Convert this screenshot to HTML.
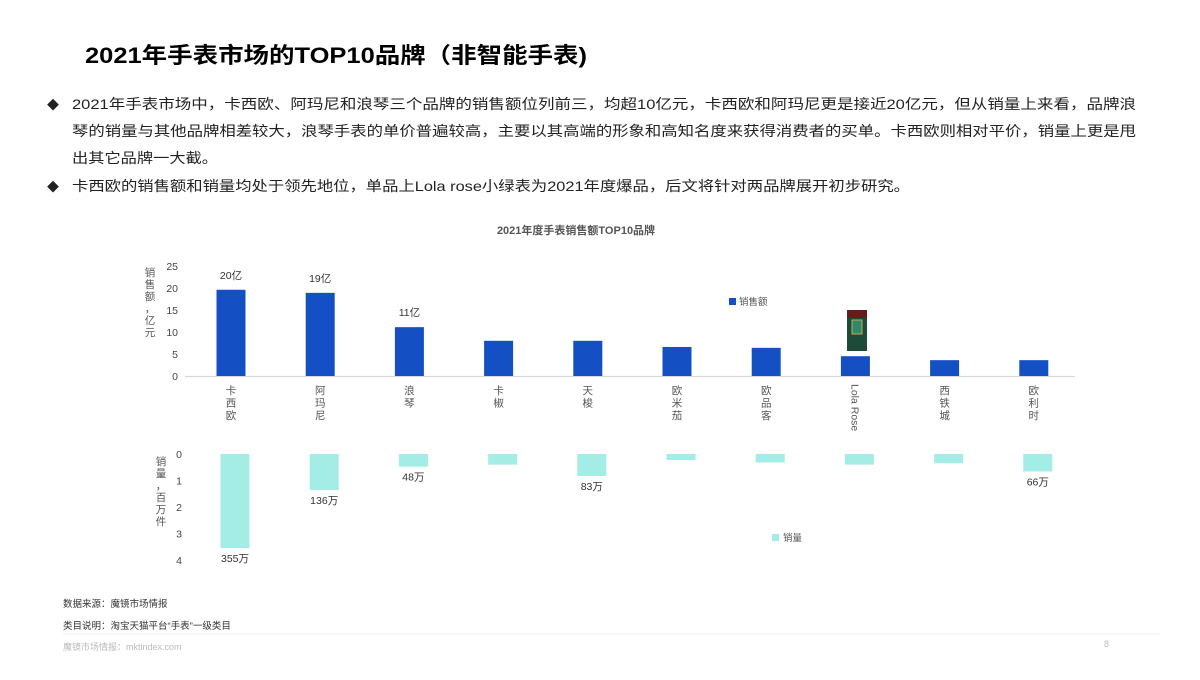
<!DOCTYPE html>
<html><head><meta charset="utf-8">
<style>
html,body{margin:0;padding:0;background:#fff;}
body{width:1200px;height:675px;overflow:hidden;font-family:"Liberation Sans","Noto Sans CJK SC",sans-serif;}
</style></head>
<body>
<svg width="1200" height="675" viewBox="0 0 1200 675" xmlns="http://www.w3.org/2000/svg" font-family="Liberation Sans, Noto Sans CJK SC, sans-serif">
<text x="85" y="63" font-size="22" font-weight="bold" fill="#000" textLength="502" lengthAdjust="spacingAndGlyphs">2021年手表市场的TOP10品牌（非智能手表)</text>
<g font-size="14" fill="#222">
<text x="47" y="109" font-size="12">◆</text>
<text x="72" y="109" textLength="1064" lengthAdjust="spacingAndGlyphs">2021年手表市场中，卡西欧、阿玛尼和浪琴三个品牌的销售额位列前三，均超10亿元，卡西欧和阿玛尼更是接近20亿元，但从销量上来看，品牌浪</text>
<text x="72" y="136" textLength="1064" lengthAdjust="spacingAndGlyphs">琴的销量与其他品牌相差较大，浪琴手表的单价普遍较高，主要以其高端的形象和高知名度来获得消费者的买单。卡西欧则相对平价，销量上更是甩</text>
<text x="72" y="163" textLength="146" lengthAdjust="spacingAndGlyphs">出其它品牌一大截。</text>
<text x="47" y="191" font-size="12">◆</text>
<text x="72" y="191" textLength="838" lengthAdjust="spacingAndGlyphs">卡西欧的销售额和销量均处于领先地位，单品上Lola rose小绿表为2021年度爆品，后文将针对两品牌展开初步研究。</text>
</g>
<text x="576" y="234" font-size="11" font-weight="bold" fill="#555" text-anchor="middle">2021年度手表销售额TOP10品牌</text>
<g id="chart"></g>
<text x="63" y="607" font-size="9.5" fill="#333">数据来源：魔镜市场情报</text>
<text x="63" y="629" font-size="9.5" fill="#333">类目说明：淘宝天猫平台“手表”一级类目</text>
<line x1="63" y1="634" x2="1160" y2="634" stroke="#eee" stroke-width="1"/>
<text x="63" y="650" font-size="9" fill="#bbb">魔镜市场情报：mktindex.com</text>
<text x="1104" y="647" font-size="9" fill="#bbb">8</text>
</svg>
<script>
const categories=["卡西欧","阿玛尼","浪琴","卡椒","天梭","欧米茄","欧品客","Lola Rose","西铁城","欧利时"];
const salesValues=[19.6,18.9,11.1,8.0,8.0,6.6,6.4,4.5,3.6,3.6];
const salesLabels=["20亿","19亿","11亿","","","","","","",""];
const volumeValues=[3.55,1.36,0.48,0.4,0.83,0.23,0.32,0.4,0.35,0.66];
const volumeLabels=["355万","136万","48万","","83万","","","","","66万"];
const salesTicks=[0,5,10,15,20,25];
const volumeTicks=[0,1,2,3,4];

const NS="http://www.w3.org/2000/svg";
const g=document.getElementById('chart');
function el(t,a,txt){const e=document.createElementNS(NS,t);for(const k in a)e.setAttribute(k,a[k]);if(txt!==undefined)e.textContent=txt;g.appendChild(e);return e;}
function stacked(str,x,y0,step,name){
  const t=el('text',{'font-size':10.5,fill:'#555','text-anchor':'middle'});
  
  
  [...str].forEach((ch,k)=>{const s=document.createElementNS(NS,'tspan');s.setAttribute('x',x);s.setAttribute('y',y0+k*step);s.textContent=ch;t.appendChild(s);});
}
const xC=i=>231+i*89.2;
const ySales=v=>376-v*4.4;
const yVol=v=>454+v*26.5;

salesTicks.forEach(t=>{const e=el('text',{x:178,y:ySales(t)+4,'font-size':10.5,fill:'#444','text-anchor':'end'},t);

});
volumeTicks.forEach(t=>{const e=el('text',{x:182,y:yVol(t)+4,'font-size':10.5,fill:'#444','text-anchor':'end'},t);

});

let ax=el('line',{x1:185,y1:376.5,x2:1075,y2:376.5,stroke:'#d9d9d9','stroke-width':1.2});



categories.forEach((c,i)=>{
  const x=xC(i);
  const b=el('rect',{x:x-14.5,y:ySales(salesValues[i]),width:29,height:salesValues[i]*4.4,fill:'#1450c4'});
  
  
  if(salesLabels[i]){const l=el('text',{x:x,y:ySales(salesValues[i])-11,'font-size':10.5,fill:'#333','text-anchor':'middle'},salesLabels[i]);
    
    }
  const v=el('rect',{x:x-10.5,y:yVol(0),width:29,height:volumeValues[i]*26.5,fill:'#a3ede6'});
  
  
  if(volumeLabels[i]){const l=el('text',{x:x+4,y:yVol(volumeValues[i])+14,'font-size':10.5,fill:'#333','text-anchor':'middle'},volumeLabels[i]);
    
    }
  if(/^[A-Za-z ]+$/.test(c)){
    const ct=el('text',{x:x-4,y:384,'font-size':10.5,fill:'#555',transform:`rotate(90 ${x-4} 384)`},c);
    
    
  } else {
    stacked(c,x,394,12.5,'category-label-'+i);
  }
});

stacked('销售额，亿元',150,276,12,'sales-y-axis-title');
stacked('销量，百万件',161,465,12,'volume-y-axis-title');

let lg1=el('rect',{x:729,y:298,width:7,height:7,fill:'#1450c4'});


let lg1t=el('text',{x:739,y:305,'font-size':9.5,fill:'#555'},'销售额');


let lg2=el('rect',{x:772,y:534,width:7,height:7,fill:'#a3ede6'});


let lg2t=el('text',{x:783,y:541,'font-size':9.5,fill:'#555'},'销量');



let img=el('rect',{x:847,y:310,width:20,height:41,fill:'#1e4a3a'});


let img2=el('rect',{x:847,y:310,width:20,height:8,fill:'#6a1a1a'});


let img3=el('rect',{x:852,y:320,width:10,height:14,fill:'#2f8a6a',stroke:'#c9a85a','stroke-width':1});


</script>
</body></html>
